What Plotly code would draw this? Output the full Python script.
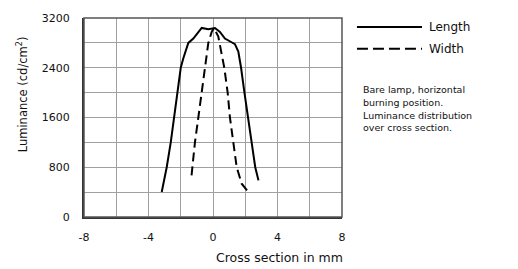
import plotly.graph_objects as go

length_x = [-3.18, -2.87, -2.62, -2.42, -2.21, -2.0, -1.84, -1.53, -1.22, -0.7, -0.29, 0.12, 0.43, 0.74, 1.15, 1.36, 1.57, 1.74, 1.95, 2.18, 2.4, 2.62, 2.82]
length_y = [403, 800, 1200, 1600, 2000, 2400, 2553, 2800, 2870, 3040, 3020, 3040, 2977, 2870, 2810, 2780, 2660, 2400, 2000, 1600, 1200, 800, 589]
width_x = [-1.33, -1.12, -0.91, -0.7, -0.5, -0.29, -0.08, 0.06, 0.33, 0.53, 0.7, 0.91, 1.05, 1.26, 1.47, 1.78, 2.19]
width_y = [669, 1200, 1600, 2000, 2400, 2800, 2977, 3040, 2900, 2600, 2400, 2000, 1600, 1200, 800, 536, 403]
x_ticks = [-8, -4, 0, 4, 8]
x_tick_text = ["-8", "-4", "0", "4", "8"]
y_ticks = [0, 800, 1600, 2400, 3200]
y_tick_text = ["0", "800", "1600", "2400", "3200"]
note_lines = ["Bare lamp, horizontal", "burning position.", "Luminance distribution", "over cross section."]

FONT = "DejaVu Sans"
TXT = "#111"
GRID = "#a0a0a0"
fig = go.Figure()
fig.add_trace(go.Scatter(x=length_x, y=length_y, mode="lines", name="Length",
                         line=dict(color="black", width=2), showlegend=False))
fig.add_trace(go.Scatter(x=width_x, y=width_y, mode="lines", name="Width",
                         line=dict(color="black", width=2, dash="9px,5px"), showlegend=False))

fig.update_layout(
    width=518, height=269,
    margin=dict(l=84, r=176, t=16, b=52),
    paper_bgcolor="white", plot_bgcolor="white",
    font=dict(family=FONT, size=11, color=TXT),
    xaxis=dict(range=[-8, 8], tickvals=x_ticks, ticktext=x_tick_text,
               showgrid=True, gridcolor=GRID, gridwidth=1, zeroline=False,
               minor=dict(dtick=2, showgrid=True, gridcolor=GRID, gridwidth=1),
               showline=True, linecolor="#333", linewidth=2, ticks="outside", ticklen=9, tickcolor="white",
               tickfont=dict(family=FONT, size=11, color=TXT), fixedrange=True),
    yaxis=dict(range=[0, 3200], tickvals=y_ticks, ticktext=y_tick_text,
               showgrid=True, gridcolor=GRID, gridwidth=1, zeroline=False,
               minor=dict(dtick=400, showgrid=True, gridcolor=GRID, gridwidth=1),
               showline=True, linecolor="#333", linewidth=2, ticks="outside", ticklen=10, tickcolor="white",
               tickfont=dict(family=FONT, size=11, color=TXT), fixedrange=True),
    showlegend=False,
)
fig.add_shape(type="rect", xref="paper", yref="paper", x0=0, y0=0, x1=1, y1=1,
              line=dict(color="#555", width=1.5))
# y axis title
fig.add_annotation(text="Luminance (cd/cm<sup>2</sup>)", xref="paper", yref="paper", x=-0.24, y=0.617,
                   textangle=-90, xanchor="center", yanchor="middle", showarrow=False,
                   font=dict(family=FONT, size=11.5, color=TXT))
# legend samples
fig.add_shape(type="line", xref="paper", yref="paper", x0=1.058, x1=1.31, y0=0.955, y1=0.955,
              line=dict(color="black", width=2))
fig.add_shape(type="line", xref="paper", yref="paper", x0=1.058, x1=1.31, y0=0.845, y1=0.845,
              line=dict(color="black", width=2, dash="11px,5px"))
fig.add_annotation(text="Length", xref="paper", yref="paper", x=1.33, y=0.955, xanchor="left", yanchor="middle",
                   showarrow=False, font=dict(family=FONT, size=12, color=TXT))
fig.add_annotation(text="Width", xref="paper", yref="paper", x=1.33, y=0.845, xanchor="left", yanchor="middle",
                   showarrow=False, font=dict(family=FONT, size=12, color=TXT))
for i, line in enumerate(note_lines):
    fig.add_annotation(text=line, xref="paper", yref="paper", x=1.075, y=(217 - (88 + 13 * i)) / 201,
                       xanchor="left", yanchor="middle", showarrow=False,
                       font=dict(family=FONT, size=9.5, color=TXT))
fig.add_annotation(text="Cross section in mm", xref="paper", yref="paper", x=1.01, y=-0.205,
                   xanchor="right", yanchor="middle", showarrow=False,
                   font=dict(family=FONT, size=12.5, color=TXT))
fig.write_html("out.html", config={"displayModeBar": False},
               post_script="document.body.style.margin='0px';document.body.style.overflow='hidden';")
